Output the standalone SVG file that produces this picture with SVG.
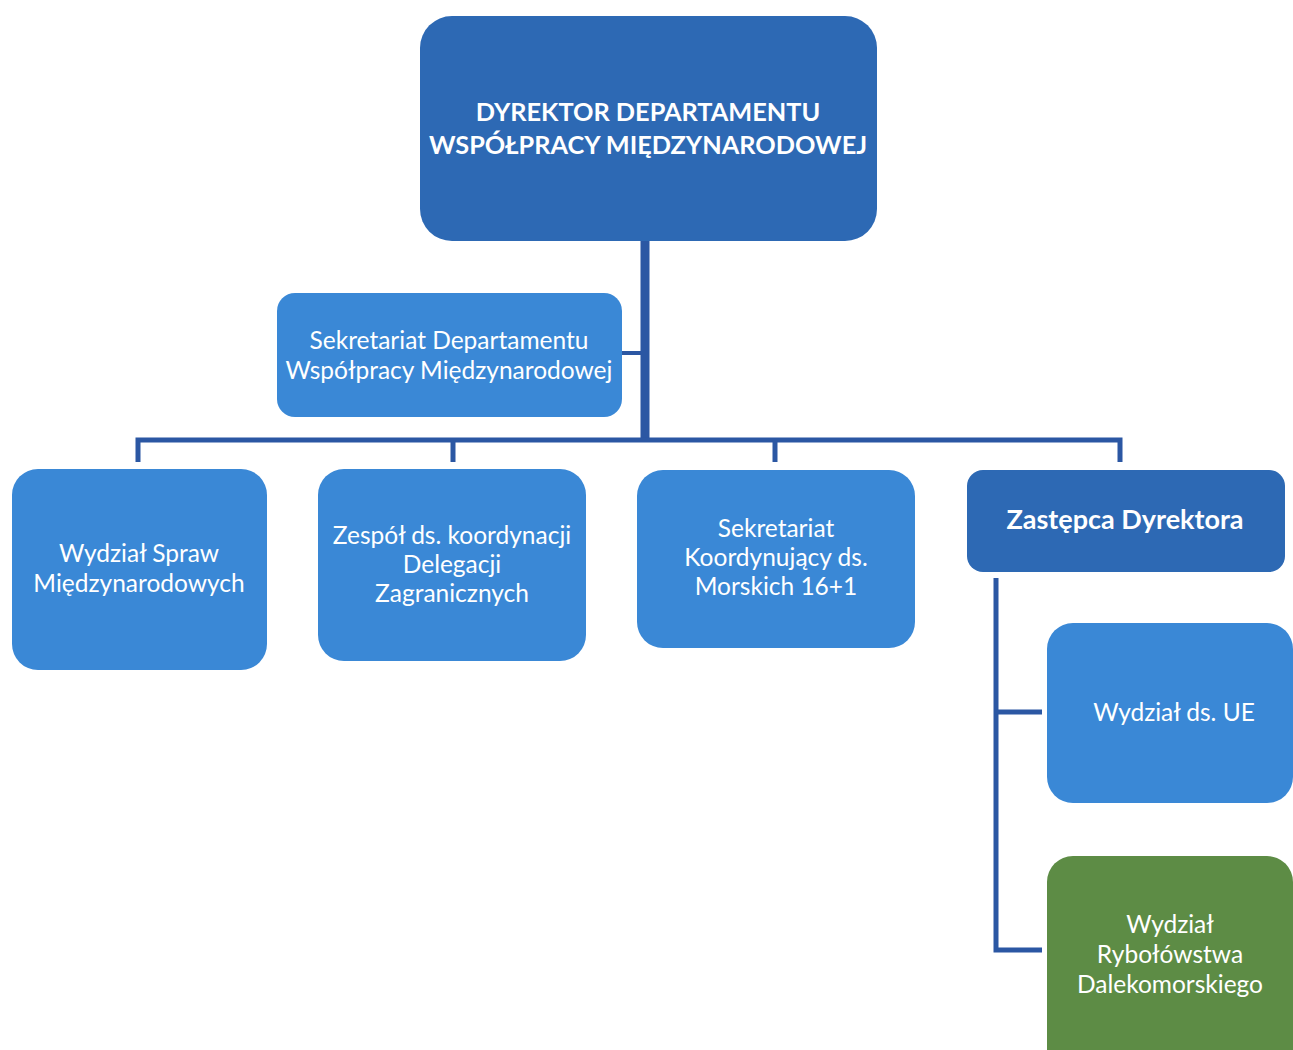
<svg xmlns="http://www.w3.org/2000/svg" width="1293" height="1050" viewBox="0 0 1293 1050">
  <style>
    .box-dark { fill: #2d69b4; }
    .box-light { fill: #3a88d6; }
    .box-green { fill: #5d8c45; }
    .lbl { font-family: Lato, "Open Sans", "Liberation Sans", sans-serif; font-size: 24.5px; fill: #ffffff; text-anchor: middle; }
    .lbl-b { font-family: Lato, "Open Sans", "Liberation Sans", sans-serif; font-size: 25.3px; font-weight: bold; fill: #ffffff; text-anchor: middle; }
    .line { stroke: #2b57a3; fill: none; stroke-linejoin: miter; }
  </style>
  <rect width="1293" height="1050" fill="#ffffff"/>

  <!-- connectors -->
  <g id="connectors" class="line">
    <line x1="645" y1="241" x2="645" y2="441" stroke-width="9"/>
    <line x1="622" y1="353" x2="641" y2="353" stroke-width="4"/>
    <polyline points="138,462 138,440 1120,440 1120,462" stroke-width="5"/>
    <line x1="453" y1="440" x2="453" y2="462" stroke-width="5"/>
    <line x1="775" y1="440" x2="775" y2="462" stroke-width="5"/>
    <polyline points="996,578 996,950 1042,950" stroke-width="5"/>
    <line x1="996" y1="712" x2="1042" y2="712" stroke-width="5"/>
  </g>

  <g id="dyrektor">
    <rect class="box-dark" x="420" y="16" width="457" height="225" rx="32"/>
    <text class="lbl-b" x="648" y="121">DYREKTOR DEPARTAMENTU</text>
    <text class="lbl-b" x="648" y="154">WSPÓŁPRACY MIĘDZYNARODOWEJ</text>
  </g>

  <g id="sekretariat-departamentu">
    <rect class="box-light" x="277" y="293" width="345" height="124" rx="18"/>
    <text class="lbl" x="449" y="349">Sekretariat Departamentu</text>
    <text class="lbl" x="449" y="379">Współpracy Międzynarodowej</text>
  </g>

  <g id="wydzial-spraw">
    <rect class="box-light" x="12" y="469" width="255" height="201" rx="26"/>
    <text class="lbl" x="139" y="562">Wydział Spraw</text>
    <text class="lbl" x="139" y="592">Międzynarodowych</text>
  </g>

  <g id="zespol">
    <rect class="box-light" x="318" y="469" width="268" height="192" rx="26"/>
    <text class="lbl" x="452" y="544">Zespół ds. koordynacji</text>
    <text class="lbl" x="452" y="573">Delegacji</text>
    <text class="lbl" x="452" y="602">Zagranicznych</text>
  </g>

  <g id="sekretariat-koordynujacy">
    <rect class="box-light" x="637" y="470" width="278" height="178" rx="26"/>
    <text class="lbl" x="776" y="537">Sekretariat</text>
    <text class="lbl" x="776" y="566">Koordynujący ds.</text>
    <text class="lbl" x="776" y="595">Morskich 16+1</text>
  </g>

  <g id="zastepca">
    <rect class="box-dark" x="967" y="470" width="318" height="102" rx="16"/>
    <text class="lbl-b" x="1125" y="529" style="font-size:27px">Zastępca Dyrektora</text>
  </g>

  <g id="wydzial-ue">
    <rect class="box-light" x="1047" y="623" width="246" height="180" rx="26"/>
    <text class="lbl" x="1174" y="721">Wydział ds. UE</text>
  </g>

  <g id="wydzial-rybolowstwa">
    <rect class="box-green" x="1047" y="856" width="246" height="220" rx="26"/>
    <text class="lbl" x="1170" y="933">Wydział</text>
    <text class="lbl" x="1170" y="963">Rybołówstwa</text>
    <text class="lbl" x="1170" y="993">Dalekomorskiego</text>
  </g>
</svg>
